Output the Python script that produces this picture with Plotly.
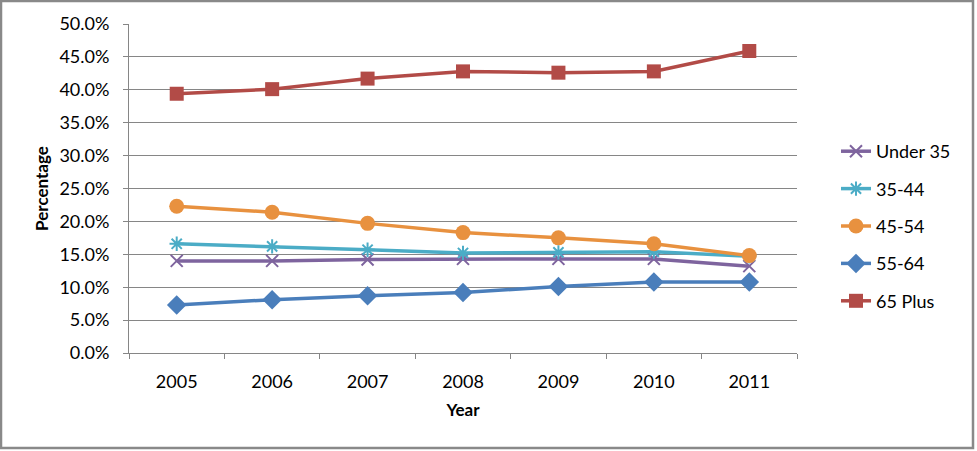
import plotly.graph_objects as go

years = ["2005", "2006", "2007", "2008", "2009", "2010", "2011"]
under35 = [14.0, 14.0, 14.2, 14.3, 14.3, 14.3, 13.2]
age35_44 = [16.6, 16.2, 15.7, 15.2, 15.3, 15.4, 14.7]
age45_54 = [22.3, 21.4, 19.7, 18.3, 17.5, 16.6, 14.8]
age55_64 = [7.3, 8.1, 8.7, 9.2, 10.1, 10.8, 10.8]
plus65 = [39.4, 40.1, 41.7, 42.8, 42.6, 42.8, 45.9]

series = [
    ("Under 35", under35, "#7E649E", "x-thin", 12, 2),
    ("35-44", age35_44, "#4BACC6", "asterisk", 12, 2),
    ("45-54", age45_54, "#E8913F", "circle", 15, 0),
    ("55-64", age55_64, "#4A7EBB", "diamond", 15, 0),
    ("65 Plus", plus65, "#B24B47", "square", 14, 0),
]

FONT = "Lato, Open Sans, sans-serif"
fig = go.Figure()
for name, vals, color, sym, size, lw in series:
    fig.add_trace(go.Scatter(
        x=years, y=[v / 100 for v in vals], name=name, mode="lines+markers",
        legendgroup=name,
        line=dict(color=color, width=3.5),
        marker=dict(symbol=sym, size=size, color=color,
                    line=dict(color=color, width=lw)),
    ))

L, R, T, B = 129, 180, 24, 98
W, H = 977, 451
pw, ph = W - L - R, H - T - B

def px_x(x):
    return (x - L) / pw

def px_y(y):
    return 1 - (y - T) / ph

fig.update_layout(
    width=W, height=H,
    margin=dict(l=L, r=R, t=T, b=B),
    paper_bgcolor="white", plot_bgcolor="white",
    font=dict(family=FONT, size=18, color="#000000"),
    showlegend=True,
    legend=dict(x=px_x(836), y=px_y(226), xanchor="left", yanchor="middle",
                tracegroupgap=11, font=dict(size=18, family=FONT),
                bgcolor="rgba(0,0,0,0)"),
    xaxis=dict(type="category", showgrid=False, showline=True, linecolor="#868686",
               linewidth=1, ticks="outside", tickson="boundaries", ticklen=5,
               tickcolor="#868686", tickfont=dict(size=18), ticklabelstandoff=12,
               title=dict(text="<b>Year</b>", font=dict(size=17), standoff=13),
               range=[-0.5, 6.5]),
    yaxis=dict(range=[0, 0.5], dtick=0.05, tickformat=".1%", showgrid=True,
               gridcolor="#868686", gridwidth=1, showline=True, linecolor="#868686",
               linewidth=1, ticks="outside", ticklen=5, tickcolor="#868686",
               tickfont=dict(size=18), zeroline=False, ticklabelstandoff=10,
               title=dict(text="<b>Percentage</b>", font=dict(size=17), standoff=6)),
    shapes=[dict(type="rect", xref="paper", yref="paper",
                 x0=px_x(1), x1=px_x(973),
                 y0=px_y(448), y1=px_y(1),
                 line=dict(color="#898989", width=2.5), fillcolor="rgba(0,0,0,0)")],
)

fig.write_html("out.html", config={"displayModeBar": False},
               post_script="document.body.style.margin='0';document.body.style.overflow='hidden';")
